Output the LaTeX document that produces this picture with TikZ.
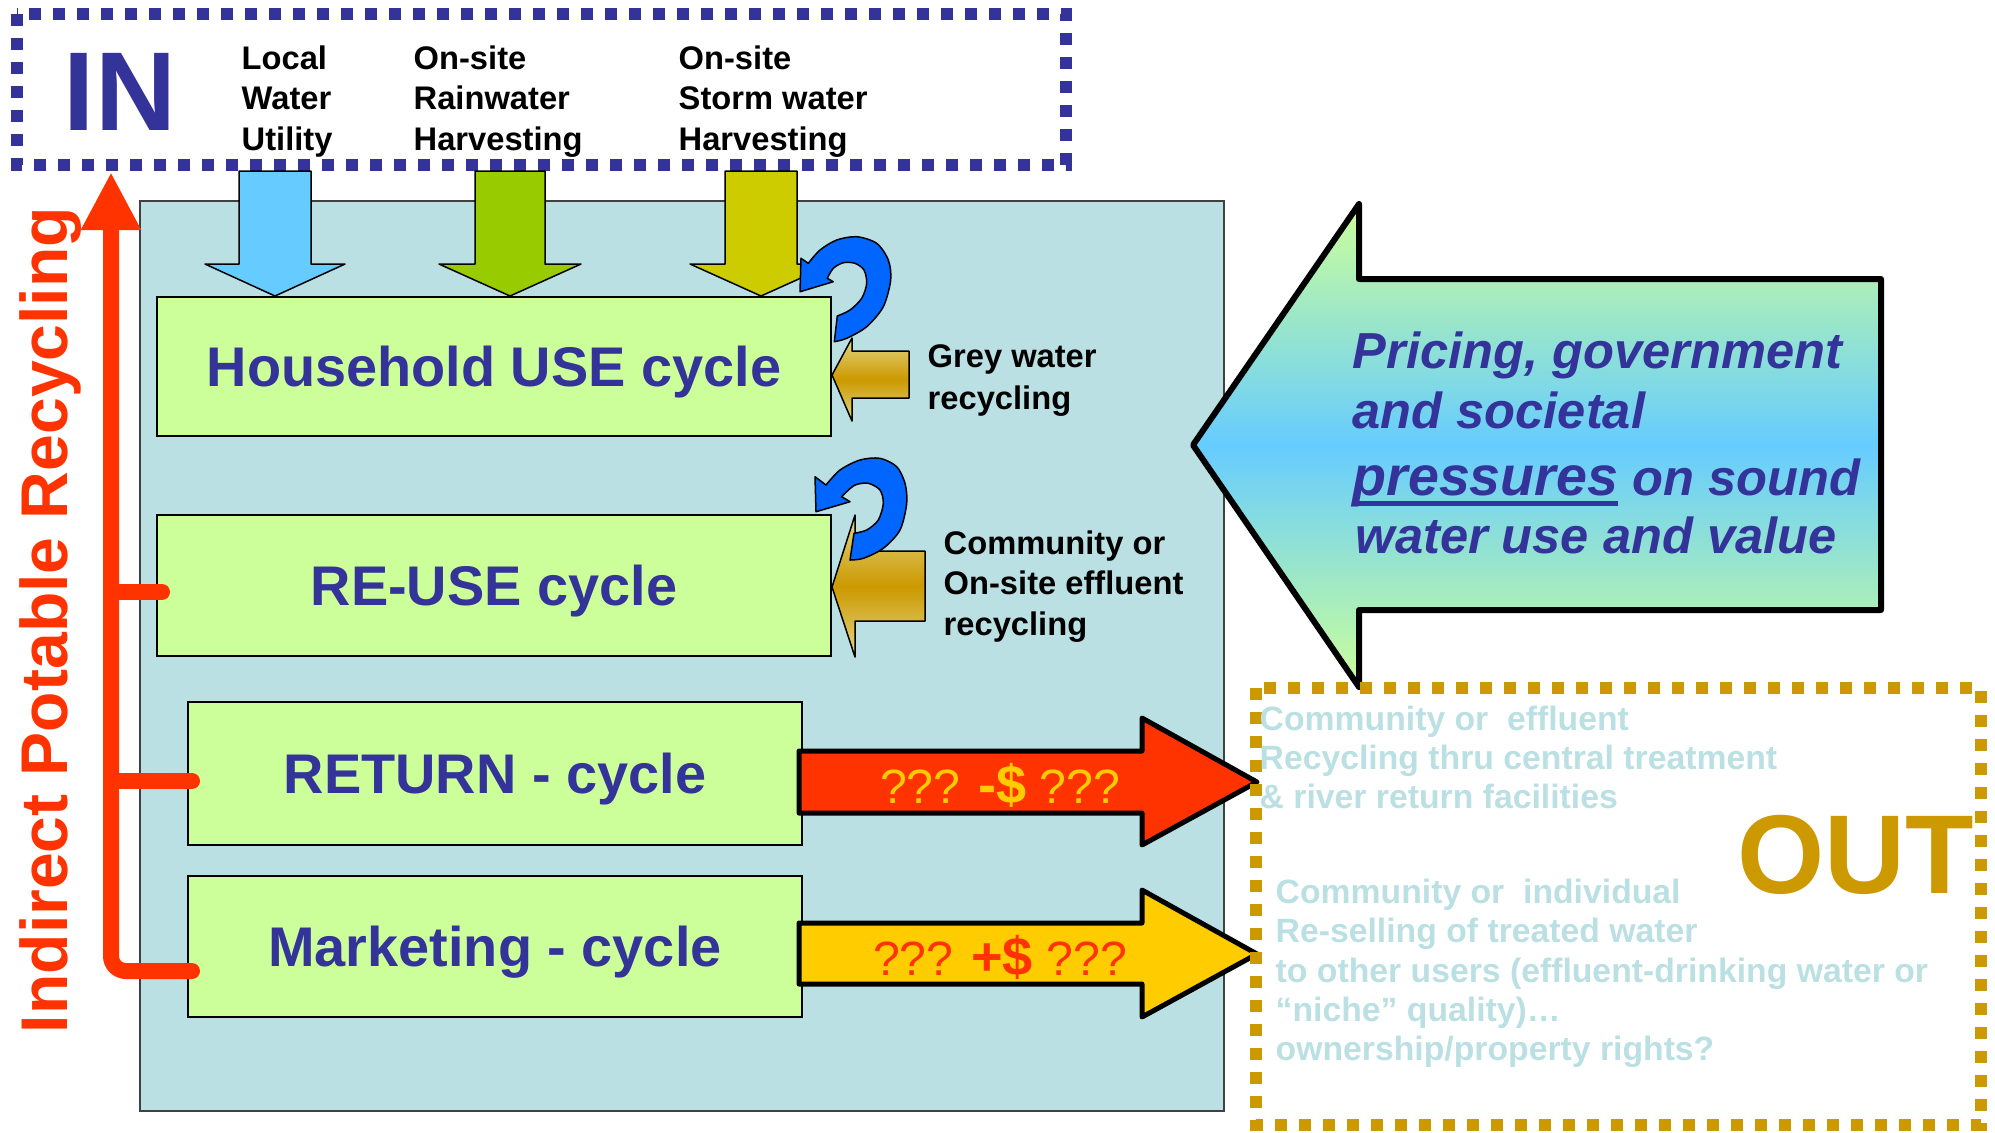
\documentclass[tikz,border=0pt]{standalone}
\usepackage{fontspec}
\setmainfont{Liberation Sans}
\usepackage{tikz}
\usetikzlibrary{arrows.meta,shapes,positioning}

\definecolor{inblue}{HTML}{333399}
\definecolor{panelteal}{HTML}{BBE0E3}
\definecolor{cyclegreen}{HTML}{CCFF99}
\definecolor{utilblue}{HTML}{66CCFF}
\definecolor{raingreen}{HTML}{99CC00}
\definecolor{stormolive}{HTML}{CCCC00}
\definecolor{loopblue}{HTML}{0066FF}
\definecolor{iprred}{HTML}{FF3300}
\definecolor{cashyellow}{HTML}{FFCC00}
\definecolor{outgold}{HTML}{CC9900}
\definecolor{goldlight}{HTML}{E2D684}

\newcommand{\fsz}[2]{\fontsize{#1}{#2}\selectfont}
\newcommand{\presul}[1]{\setbox0=\hbox{#1}\rlap{\rule[-3.0pt]{\wd0}{1.4pt}}\box0}

\tikzset{
  inframe/.style={draw=inblue, line width=1.2mm, dash pattern=on 1.2mm off 1.2mm},
  outframe/.style={draw=outgold, line width=1.2mm, dash pattern=on 1.2mm off 1.2mm},
  thinblock/.style={draw=black, line width=0.15mm, line join=round},
  fatblock/.style={draw=black, line width=0.5mm, line join=round},
  cyclebox/.style={draw=black, line width=0.2mm, fill=cyclegreen, text=inblue,
    font=\fsz{15.9}{19}\bfseries, text height=11.2pt, text depth=0pt},
  goldarrow/.style={thinblock, top color=goldlight, bottom color=goldlight, middle color=outgold},
  iprline/.style={draw=iprred, line width=1.6mm, line cap=round},
  sidetext/.style={align=left, anchor=base west},
  outtext/.style={sidetext, text=panelteal, font=\fsz{9.6}{11.1}\bfseries}
}

\begin{document}
\begin{tikzpicture}[x=0.1mm,y=-0.1mm]\tikzstyle{every node}=[font=\bfseries,inner sep=0pt]
\useasboundingbox (0,0) rectangle (1995,1132);
% inputs (base of a text block = its last line)
\draw[inframe] (17,14) rectangle (1066,165);
\node[text=inblue, font=\fsz{31.9}{36}\bfseries, anchor=base] (in) at (120,130) {IN};
\node[sidetext, font=\fsz{9.3}{11.4}\bfseries] (util) at (241,150) {Local\\Water\\Utility};
\node[sidetext, font=\fsz{9.3}{11.4}\bfseries] (rain) at (413,150) {On-site\\Rainwater\\Harvesting};
\node[sidetext, font=\fsz{9.3}{11.4}\bfseries] (storm) at (678,150) {On-site\\Storm water\\Harvesting};
% the site
\filldraw[fill=panelteal, draw=black!75, line width=0.2mm] (140,201) rectangle (1224,1111);
% down arrows into the household
\filldraw[fill=utilblue, thinblock] (239,171) -- (311,171) -- (311,264) -- (345,264) -- (275,296) -- (205,264) -- (239,264) -- cycle;
\filldraw[fill=raingreen, thinblock] (475,171) -- (545,171) -- (545,264) -- (581,264) -- (510,296) -- (439,264) -- (475,264) -- cycle;
\filldraw[fill=stormolive, thinblock] (725,171) -- (797,171) -- (797,264) -- (832,264) -- (761,296) -- (690,264) -- (725,264) -- cycle;
% cycles
\node[cyclebox, minimum width=67.4mm, minimum height=13.9mm] (house) at (494,366.5) {Household USE cycle};
\node[cyclebox, minimum width=67.4mm, minimum height=14.1mm] (reuse) at (494,585.5) {RE-USE cycle};
\node[cyclebox, minimum width=61.4mm, minimum height=14.3mm] (return) at (495,773.5) {RETURN - cycle};
\node[cyclebox, minimum width=61.4mm, minimum height=14.1mm] (mkt) at (495,946.5) {Marketing - cycle};
% indirect potable recycling
\coordinate (ipr top) at (111,172);
\coordinate (b1) at ([xshift=0.6mm,yshift=-0.65mm]reuse.west);
\coordinate (b2) at ([xshift=0.5mm,yshift=-0.75mm]return.west);
\coordinate (b3) at ([xshift=0.5mm,yshift=-2.45mm]mkt.west);
\draw[iprline, rounded corners=1.5mm, -{Triangle[length=5.8mm,width=5.6mm]}] (b3) -| (ipr top);
\draw[iprline] (b1) -- (b1 -| ipr top);
\draw[iprline] (b2) -- (b2 -| ipr top);
\node[rotate=90, anchor=base, text=iprred, font=\fsz{18.8}{22}\bfseries] (ipr) at (67,620) {Indirect Potable Recycling};
% recycling on site
\draw[goldarrow] (832,375) -- (852,338) -- (852,351) -- (909,351) -- (909,398) -- (852,398) -- (852,421) -- cycle;
\draw[goldarrow] (832,587) -- (855,515) -- (855,551) -- (925,551) -- (925,621) -- (855,621) -- (855,657) -- cycle;
\filldraw[fill=loopblue, thinblock] (834.3,341.7) -- (837.3,316) -- plot[smooth] coordinates {(837.3,316) (850,310) (861.7,298.3) (866.7,283.3) (864,270) (855,263.3) (843.3,262.7) (833.3,268.3) (827.3,278.3)} -- (833.3,281.7) -- (800,291.7) -- (801,258.3) -- (808.3,263.3) -- plot[smooth] coordinates {(808.3,263.3) (820,250) (836.7,240) (856.7,236.7) (876.7,243.3) (888.3,260) (890.7,280) (883.3,306.7) (866.7,326.7) (846.7,338.3) (834.3,341.7)} -- cycle;
\filldraw[fill=loopblue, thinblock] (850,560) -- (854,533.3) -- plot[smooth] coordinates {(854,533.3) (866.7,530) (878.3,520) (883.3,503.3) (880,490) (868.3,483.3) (855,485) (845,493.3) (841.7,496.7)} -- (850,501.7) -- (816,511.7) -- (815,476.7) -- (826,485) -- plot[smooth] coordinates {(826,485) (840,470) (860,460) (880,458.3) (896.7,466.7) (905,483.3) (906.7,503.3) (900,530) (883.3,548.3) (863.3,558.3) (850,560)} -- cycle;
\node[sidetext, font=\fsz{9.3}{11.7}\bfseries] (grey) at (927,409) {Grey water\\recycling};
\node[sidetext, font=\fsz{9.3}{11.4}\bfseries] (effl) at (943,635) {Community or\\On-site effluent\\recycling};
% money out
\filldraw[fill=iprred, fatblock] (799,751) -- (1142,751) -- (1142,718) -- (1257,782) -- (1142,845) -- (1142,813) -- (799,813) -- cycle;
\filldraw[fill=cashyellow, fatblock] (799,923) -- (1142,923) -- (1142,890) -- (1257,954) -- (1142,1017) -- (1142,984) -- (799,984) -- cycle;
\node[anchor=base, text=cashyellow, font=\fsz{13.7}{16}\mdseries] (loss) at (1000,803) {??? {\fsz{15.4}{18}\bfseries -\$} ???};
\node[anchor=base, text=iprred, font=\fsz{13.7}{16}\mdseries] (gain) at (1000,975) {??? {\fsz{15.4}{18}\bfseries +\$} ???};
% pressures
\draw[line width=0.6mm, line join=round, top color=cyclegreen, bottom color=cyclegreen, middle color=utilblue] (1193,445) -- (1359,204) -- (1359,279) -- (1881,279) -- (1881,610) -- (1359,610) -- (1359,687) -- cycle;
\node[anchor=base west, text=inblue, font=\fsz{14.4}{17}\bfseries\itshape] (pr1) at (1352,368) {Pricing, government};
\node[anchor=base west, text=inblue, font=\fsz{14.4}{17}\bfseries\itshape] (pr2) at (1352,428) {and societal};
\node[anchor=base west, text=inblue, font=\fsz{14.4}{17}\bfseries\itshape] (pr3) at (1352,495) {{\fsz{15.8}{19}\presul{pressures}} on sound};
\node[anchor=base west, text=inblue, font=\fsz{14.4}{17}\bfseries\itshape] (pr4) at (1355,553) {water use and value};
% outputs
\draw[outframe] (1256,688) rectangle (1981,1125);
\node[text=outgold, font=\fsz{31.9}{36}\bfseries, anchor=base] (out) at (1856,893) {OUT};
\node[outtext] (central) at (1259,808) {Community or\ \ effluent\\Recycling thru central treatment\\\& river return facilities};
\node[outtext] (resell) at (1275,1060) {Community or\ \ individual\\Re-selling of treated water\\to other users (effluent-drinking water or\\``niche'' quality)…\\ownership/property rights?};
\end{tikzpicture}
\end{document}
